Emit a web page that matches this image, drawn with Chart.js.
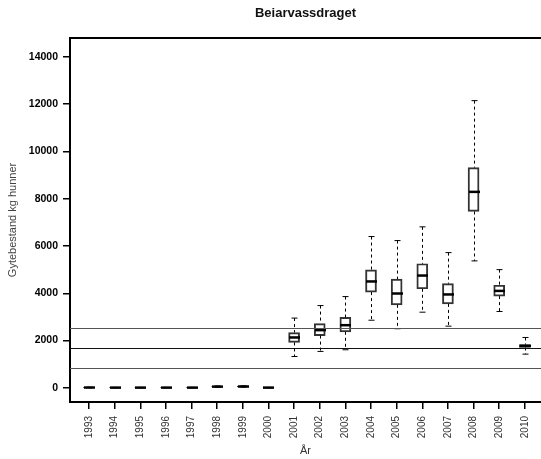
<html>
    <head>
        <script src="https://cdn.jsdelivr.net/npm/chart.js@4.4.0/dist/chart.umd.min.js"></script>
        <style>
            body {
                margin: 0px;
                background: #fff;
            }
        </style>
    </head>

    <body>
        <canvas id="chart" width="541" height="459"></canvas>
        <script>
            // Box statistics per year
            const years = [1993, 1994, 1995, 1996, 1997, 1998, 1999, 2000, 2001, 2002, 2003, 2004, 2005, 2006, 2007, 2008, 2009, 2010]
            const whiskerLow = [2, 1, 1, 1, 1, 25, 30, 1, 1325, 1540, 1610, 2860, 2500, 3200, 2610, 5370, 3230, 1425]
            const q1 = [5, 3, 3, 3, 3, 35, 40, 3, 1920, 2210, 2370, 4050, 3510, 4190, 3550, 7460, 3880, 1705]
            const median = [12, 8, 8, 8, 8, 50, 55, 8, 2130, 2440, 2650, 4500, 3990, 4750, 3950, 8290, 4100, 1775]
            const q3 = [20, 14, 14, 14, 14, 65, 70, 14, 2340, 2720, 2980, 4990, 4600, 5250, 4410, 9320, 4340, 1830]
            const whiskerHigh = [28, 20, 20, 20, 20, 80, 85, 20, 2950, 3480, 3860, 6400, 6230, 6810, 5720, 12150, 5000, 2130]

            // Horizontal reference levels
            const refLevels = [2525, 1680, 845]
            const refColors = ['#555', '#111', '#555']

            const yTicks = [0, 2000, 4000, 6000, 8000, 10000, 12000, 14000]

            const boxExtras = {
                id: 'boxExtras',
                afterDatasetsDraw(chart) {
                    const { ctx, chartArea } = chart
                    const x = chart.scales.x
                    const y = chart.scales.y
                    ctx.save()
                    ctx.strokeStyle = '#000'
                    years.forEach((yr, i) => {
                        const px = Math.round(x.getPixelForValue(yr)) + 0.5
                        const hi = y.getPixelForValue(whiskerHigh[i])
                        const lo = y.getPixelForValue(whiskerLow[i])
                        const top = y.getPixelForValue(q3[i])
                        const bot = y.getPixelForValue(q1[i])
                        const med = y.getPixelForValue(median[i])
                        // dashed whiskers
                        ctx.lineWidth = 1
                        ctx.setLineDash([3, 3])
                        ctx.beginPath()
                        ctx.moveTo(px, hi)
                        ctx.lineTo(px, top)
                        ctx.moveTo(px, bot)
                        ctx.lineTo(px, lo)
                        ctx.stroke()
                        // caps
                        ctx.setLineDash([])
                        ctx.beginPath()
                        ctx.moveTo(px - 3, hi)
                        ctx.lineTo(px + 3, hi)
                        ctx.moveTo(px - 3, lo)
                        ctx.lineTo(px + 3, lo)
                        ctx.stroke()
                        // median
                        ctx.lineWidth = 2.5
                        ctx.beginPath()
                        ctx.moveTo(px - 5.5, med)
                        ctx.lineTo(px + 5.5, med)
                        ctx.stroke()
                    })
                    // reference lines
                    ctx.lineWidth = 1
                    refLevels.forEach((v, i) => {
                        const py = Math.round(y.getPixelForValue(v)) + 0.5
                        ctx.strokeStyle = refColors[i]
                        ctx.beginPath()
                        ctx.moveTo(chartArea.left, py)
                        ctx.lineTo(chart.width, py)
                        ctx.stroke()
                    })
                    // top frame line
                    ctx.strokeStyle = '#000'
                    ctx.lineWidth = 2
                    ctx.beginPath()
                    ctx.moveTo(chartArea.left - 1, chartArea.top)
                    ctx.lineTo(chart.width, chartArea.top)
                    ctx.stroke()
                    ctx.restore()
                },
            }

            const ctx = document.getElementById('chart')
            const chart = new Chart(ctx, {
                type: 'bar',
                data: {
                    datasets: [
                        {
                            label: 'Gytebestand',
                            data: years.map((yr, i) => ({ x: yr, y: [q1[i], q3[i]] })),
                            backgroundColor: 'rgba(0,0,0,0)',
                            borderColor: '#333',
                            borderWidth: 1.3,
                            borderSkipped: false,
                            barThickness: 11,
                        },
                    ],
                },
                options: {
                    responsive: false,
                    animation: false,
                    layout: { padding: 0 },
                    plugins: {
                        legend: { display: false },
                        tooltip: { enabled: false },
                        title: {
                            display: true,
                            text: 'Beiarvassdraget',
                            fullSize: false,
                            color: '#111',
                            font: { family: 'Liberation Sans, Arial, sans-serif', size: 13, weight: 'bold' },
                            padding: { top: 5.2, bottom: 17.2 },
                        },
                    },
                    scales: {
                        x: {
                            type: 'linear',
                            offset: false,
                            min: 1992.26,
                            max: 2010.63,
                            afterFit: (scale) => {
                                scale.height = 57
                                scale.paddingLeft = 0
                                scale.paddingRight = 0
                            },
                            afterBuildTicks: (scale) => { scale.ticks = years.map((v) => ({ value: v })) },
                            grid: { offset: false, drawOnChartArea: false, drawTicks: true, tickLength: 7, color: '#000', lineWidth: 1.5 },
                            border: { color: '#000', width: 2 },
                            ticks: {
                                minRotation: 90,
                                maxRotation: 90,
                                autoSkip: false,
                                padding: 7,
                                color: '#333',
                                font: { family: 'Liberation Sans, Arial, sans-serif', size: 10 },
                                callback: (v) => String(v),
                            },
                            title: {
                                display: true,
                                text: 'År',
                                color: '#333',
                                font: { family: 'Liberation Sans, Arial, sans-serif', size: 11 },
                                padding: { top: 0, bottom: 1 },
                            },
                        },
                        y: {
                            type: 'linear',
                            min: -600,
                            max: 14800,
                            afterFit: (scale) => { scale.width = 70 },
                            afterBuildTicks: (scale) => { scale.ticks = yTicks.map((v) => ({ value: v })) },
                            grid: { drawOnChartArea: false, drawTicks: true, tickLength: 7, color: '#000', lineWidth: 1.5 },
                            border: { color: '#000', width: 2 },
                            ticks: {
                                padding: 5,
                                color: '#000',
                                font: { family: 'Liberation Sans, Arial, sans-serif', size: 10.5, weight: 'bold' },
                                callback: (v) => String(v),
                            },
                            title: {
                                display: true,
                                text: 'Gytebestand kg hunner',
                                color: '#444',
                                font: { family: 'Liberation Sans, Arial, sans-serif', size: 11 },
                                padding: { top: 6, bottom: 0 },
                            },
                        },
                    },
                },
                plugins: [boxExtras],
            })
        </script>
    </body>
</html>
